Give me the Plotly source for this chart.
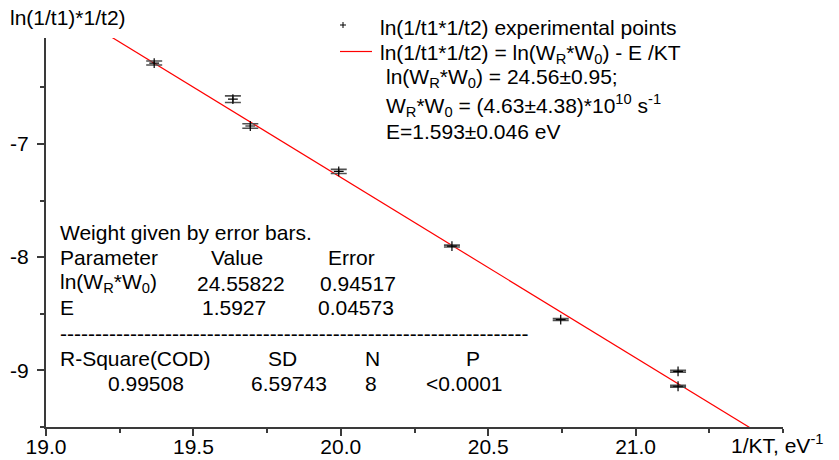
import numpy as np
import plotly.graph_objects as go

# ---------------- data ----------------
inv_kt = [19.367, 19.634, 19.693, 19.993, 20.377, 20.746, 21.144, 21.144]
ln_rate = [-6.286, -6.605, -6.842, -7.243, -7.902, -8.551, -9.008, -9.140]
ln_err = [0.018, 0.029, 0.020, 0.018, 0.008, 0.008, 0.008, 0.008]

fit_lnW = 24.55822
fit_E = 1.5927
fit_x_span = [19.0, 21.5]

x_tick_vals = [19.0, 19.5, 20.0, 20.5, 21.0]
x_tick_text = ["19.0", "19.5", "20.0", "20.5", "21.0"]
y_tick_vals = [-9, -8, -7]
y_tick_text = ["-9", "-8", "-7"]

param_names = ["ln(W<sub>R</sub>*W<sub>0</sub>)", "E"]
param_values = ["24.55822", "1.5927"]
param_errors = ["0.94517", "0.04573"]
stat_names = ["R-Square(COD)", "SD", "N", "P"]
stat_values = ["0.99508", "6.59743", "8", "<0.0001"]

legend_lines = [
    "ln(1/t1*1/t2) experimental points",
    "ln(1/t1*1/t2) = ln(W<sub>R</sub>*W<sub>0</sub>) - E /KT",
]
info_lines = [
    "ln(W<sub>R</sub>*W<sub>0</sub>) = 24.56±0.95;",
    "W<sub>R</sub>*W<sub>0</sub> = (4.63±4.38)*10<sup>10</sup> s<sup>-1</sup>",
    "E=1.593±0.046 eV",
]

# ---------------- layout geometry ----------------
W, H = 839, 460
L, R, T, B = 46, 56, 38, 33
PW, PH = W - L - R, H - T - B
FONT = "Liberation Sans, Arial, sans-serif"
FS = 21


def px(xp):
    return (xp - L) / PW


def py(yp):
    return (H - B - yp) / PH


fit_x = np.array(fit_x_span)
fit_y = fit_lnW - fit_E * fit_x

fig = go.Figure()
fig.add_trace(go.Scatter(
    x=fit_x, y=fit_y, mode="lines", name=legend_lines[1],
    line=dict(color="#ff0000", width=1.2), showlegend=False,
))
fig.add_trace(go.Scatter(
    x=inv_kt, y=ln_rate, mode="markers", name=legend_lines[0],
    marker=dict(symbol="cross-thin", size=7, line=dict(color="#000000", width=1.2)),
    error_y=dict(type="data", array=ln_err, visible=True, color="#505050",
                 thickness=1.6, width=8),
    showlegend=False,
))

ann = []


def text(t, x, y, anchor="left"):
    ann.append(dict(text=t, x=px(x), y=py(y), xref="paper", yref="paper",
                    xanchor=anchor, yanchor="middle", showarrow=False,
                    font=dict(family=FONT, size=FS, color="#000000")))


# axis titles
text("ln(1/t1)*1/t2)", 8, 18)
text("1/KT, eV<sup>-1</sup>", 729, 444)

# legend-like block
text(legend_lines[0], 378, 27)
text(legend_lines[1], 378, 54)
for t, yy in zip(info_lines, [78, 106, 132]):
    text(t, 384, yy)

# table
text("Weight given by error bars.", 58, 232)
text("Parameter", 58, 257)
text("Value", 237, 257, "center")
text("Error", 351, 257, "center")
for i, yy in enumerate([283, 307]):
    text(param_names[i], 58, yy)
    text(param_values[i], [241, 234][i], yy, "center")
    text(param_errors[i], [358, 356][i], yy, "center")
text("-" * 67, 58, 333)
for t, xx in zip(stat_names, [58, 282, 372, 473]):
    text(t, xx, 358, "left" if t == stat_names[0] else "center")
for t, xx in zip(stat_values, [146, 289, 371, 464]):
    text(t, xx, 383, "center")

shapes = [
    # legend line sample
    dict(type="line", xref="paper", yref="paper", x0=px(340), x1=px(372),
         y0=py(51.5), y1=py(51.5), line=dict(color="#ff0000", width=1.2)),
    # legend marker sample (+)
    dict(type="line", xref="paper", yref="paper", x0=px(343 - 3), x1=px(343 + 3),
         y0=py(25), y1=py(25), line=dict(color="#000000", width=1)),
    dict(type="line", xref="paper", yref="paper", x0=px(343), x1=px(343),
         y0=py(22), y1=py(28), line=dict(color="#000000", width=1)),
]

axis_common = dict(
    showgrid=False, zeroline=False, showline=True, linecolor="#3a3a3a",
    linewidth=2, ticks="outside", ticklen=7, tickwidth=1.5, tickcolor="#3a3a3a",
    tickfont=dict(family=FONT, size=FS, color="#000000"), mirror=False,
    automargin=False,
)

fig.update_layout(
    template="none",
    width=W, height=H,
    margin=dict(l=L, r=R, t=T, b=B, pad=0),
    paper_bgcolor="white", plot_bgcolor="white",
    showlegend=False,
    xaxis=dict(range=[19.0, 21.5], tickmode="array", tickvals=x_tick_vals,
               ticktext=x_tick_text, ticklabelstandoff=-7,
               minor=dict(tickmode="linear", tick0=19.0, dtick=0.25, ticklen=4,
                          tickwidth=1.5, tickcolor="#3a3a3a", ticks="outside"),
               **axis_common),
    yaxis=dict(range=[-9.5, -6.065], tickmode="array", tickvals=y_tick_vals,
               ticktext=y_tick_text, ticklabelstandoff=4,
               minor=dict(tickmode="linear", tick0=-9.5, dtick=0.5, ticklen=4,
                          tickwidth=1.5, tickcolor="#3a3a3a", ticks="outside"),
               **axis_common),
    annotations=ann,
    shapes=shapes,
)

fig.write_html("out.html")
